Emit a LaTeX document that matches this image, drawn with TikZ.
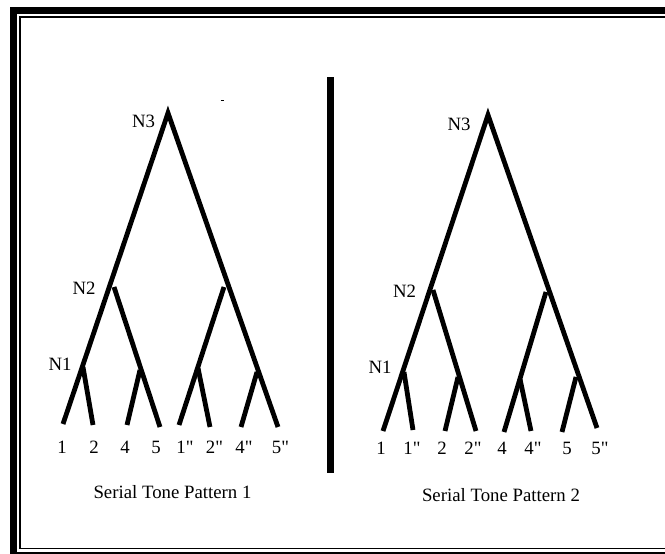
\documentclass[tikz,border=0pt]{standalone}
\usepackage{fontspec}
\setmainfont{Liberation Serif}
\newcommand{\dq}{\textquotedbl}
\begin{document}
\begin{tikzpicture}[x=1pt,y=-1pt,
  branch/.style={line width=4.8pt,line join=miter,line cap=butt},
  lbl/.style={inner sep=0pt,font=\fontsize{18.8}{20}\selectfont},
  frameouter/.style={line width=7pt},
  frameinner/.style={line width=1.9pt},
  divider/.style={line width=6.5pt}]
\useasboundingbox (0,0) rectangle (665,554);
\clip (0,0) rectangle (665,554);
% frame
\draw[frameouter] (13,10.5) rectangle (672,555);
\draw[frameinner] (20,17) rectangle (675,548.5);
% divider
\coordinate (dtop) at (330.7,77);
\coordinate (dbot) at (330.7,473);
\draw[divider] (dtop) -- (dbot);
% small mark
\coordinate (m1) at (220.5,100);
\coordinate (m2) at (224,100);
\draw[line width=1pt] (m1) -- (m2);

% ---------- left tree ----------
\coordinate (LA) at (168,113);
\coordinate (La1) at (63,424);
\coordinate (La5pp) at (278,427);
\coordinate (LN2) at (114,287);
\coordinate (La5) at (160,427);
\coordinate (LN1) at (83,367);
\coordinate (La2) at (93,425);
\coordinate (Lj4) at (140,370);
\coordinate (La4) at (127,425);
\coordinate (LR) at (224,287);
\coordinate (La1pp) at (179,425);
\coordinate (Lj2pp) at (198,368);
\coordinate (La2pp) at (210,427);
\coordinate (Lj4pp) at (257,372);
\coordinate (La4pp) at (241,427);
\draw[branch] (La1) -- (LA) -- (La5pp);
\draw[branch] (LN2) -- (La5);
\draw[branch] (LN1) -- (La2);
\draw[branch] (Lj4) -- (La4);
\draw[branch] (LR) -- (La1pp);
\draw[branch] (Lj2pp) -- (La2pp);
\draw[branch] (Lj4pp) -- (La4pp);
\node[lbl] (LtN3) at (143.5,121) {N3};
\node[lbl] (LtN2) at (84,288) {N2};
\node[lbl] (LtN1) at (60,364) {N1};
\node[lbl] (Lt1) at (62,447) {1};
\node[lbl] (Lt2) at (94,447) {2};
\node[lbl] (Lt4) at (125,447) {4};
\node[lbl] (Lt5) at (156,447) {5};
\node[lbl] (Lt1pp) at (185,447) {1\dq};
\node[lbl] (Lt2pp) at (214.5,447) {2\dq};
\node[lbl] (Lt4pp) at (244,447) {4\dq};
\node[lbl] (Lt5pp) at (280.5,447) {5\dq};
\node[lbl] (Lcap) at (172.5,492.5) {Serial Tone Pattern 1};

% ---------- right tree ----------
\coordinate (RA) at (488,115);
\coordinate (Ra1) at (383,431);
\coordinate (Ra5pp) at (597,428);
\coordinate (RN2) at (433,290);
\coordinate (Ra2pp) at (476,431);
\coordinate (RN1) at (404,372);
\coordinate (Ra1pp) at (413,430);
\coordinate (Rj2) at (458,377);
\coordinate (Ra2) at (445,431);
\coordinate (RR) at (546,292);
\coordinate (Ra4) at (504,432);
\coordinate (Rj4pp) at (520,379);
\coordinate (Ra4pp) at (531,431);
\coordinate (Rj5) at (576,377);
\coordinate (Ra5) at (562,432);
\draw[branch] (Ra1) -- (RA) -- (Ra5pp);
\draw[branch] (RN2) -- (Ra2pp);
\draw[branch] (RN1) -- (Ra1pp);
\draw[branch] (Rj2) -- (Ra2);
\draw[branch] (RR) -- (Ra4);
\draw[branch] (Rj4pp) -- (Ra4pp);
\draw[branch] (Rj5) -- (Ra5);
\node[lbl] (RtN3) at (459,124) {N3};
\node[lbl] (RtN2) at (404.5,291) {N2};
\node[lbl] (RtN1) at (380,367) {N1};
\node[lbl] (Rt1) at (381,448) {1};
\node[lbl] (Rt1pp) at (412,448) {1\dq};
\node[lbl] (Rt2) at (442,448) {2};
\node[lbl] (Rt2pp) at (473,448) {2\dq};
\node[lbl] (Rt4) at (502,448) {4};
\node[lbl] (Rt4pp) at (533,448) {4\dq};
\node[lbl] (Rt5) at (567,448) {5};
\node[lbl] (Rt5pp) at (600,448) {5\dq};
\node[lbl] (Rcap) at (501,495.5) {Serial Tone Pattern 2};
\end{tikzpicture}
\end{document}
